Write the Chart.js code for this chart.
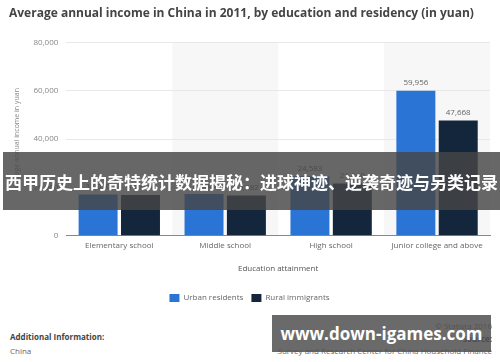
<!DOCTYPE html>
<html>
<head>
<meta charset="utf-8">
<script src="https://cdn.jsdelivr.net/npm/chart.js@4.4.0/dist/chart.umd.min.js"></script>
<style>
  body { margin: 0; width: 500px; height: 362px; background: #fff; overflow: hidden; position: relative; font-family: "Open Sans", sans-serif; }
  #wrap { position: absolute; left: 0; top: 0; width: 500px; height: 312px; }
  .foot { position: absolute; font-size: 8px; color: #666; }
  .bold { font-weight: bold; color: #444; }
  #banner { position: absolute; left: 3px; top: 152px; width: 497px; height: 58px; background: rgba(70,70,70,0.82);
    color: #fff; font-family: "Noto Sans CJK SC", sans-serif; font-weight: bold; font-size: 17px; line-height: 60px; text-align: center; white-space: nowrap; }
  #mark { position: absolute; left: 272px; top: 315px; width: 219px; height: 37px; background: rgba(80,80,80,0.85);
    color: #fff; font-family: "Open Sans", sans-serif; font-weight: bold; font-size: 17px; line-height: 37px; text-align: center; white-space: nowrap; }
</style>
</head>
<body>
<div id="wrap"><canvas id="incomeChart" width="500" height="312"></canvas></div>

<div class="foot bold" style="left:10px; top:331px;">Additional Information:</div>
<div class="foot" style="left:10px; top:345px;">China</div>
<div class="foot" style="right:8px; top:320px;">© Statista 2016</div>
<div class="foot bold" style="right:8px; top:333px;">Source:</div>
<div class="foot" style="right:8px; top:345px;">Survey and Research Center for China Household Finance</div>

<div id="banner">西甲历史上的奇特统计数据揭秘：进球神迹、逆袭奇迹与另类记录</div>
<div id="mark">www.down-igames.com</div>

<script>
var categories = ["Elementary school", "Middle school", "High school", "Junior college and above"];
var urbanResidents = [17050, 17300, 24583, 59956];
var ruralImmigrants = [16900, 16682, 21640, 47668];
var yTicks = [0, 20000, 40000, 60000, 80000];

// light gray bands behind every other category
var bandPlugin = {
    id: 'bands',
    beforeDraw: function(chart) {
        var ctx = chart.ctx;
        var area = chart.chartArea;
        var x = chart.scales.x;
        var step = x.width / categories.length;
        ctx.save();
        ctx.fillStyle = '#f7f7f7';
        for (var i = 1; i < categories.length; i += 2) {
            ctx.fillRect(x.left + step * i, area.top, step, area.bottom - area.top);
        }
        ctx.restore();
    }
};

// value labels above bars
var labelPlugin = {
    id: 'valueLabels',
    afterDatasetsDraw: function(chart) {
        var ctx = chart.ctx;
        ctx.save();
        ctx.font = '8px "Open Sans"';
        ctx.fillStyle = '#666';
        ctx.textAlign = 'center';
        ctx.textBaseline = 'bottom';
        chart.data.datasets.forEach(function(ds, i) {
            chart.getDatasetMeta(i).data.forEach(function(bar, j) {
                ctx.fillText(ds.data[j].toLocaleString('en-US'), bar.x, bar.y - 4);
            });
        });
        ctx.restore();
    }
};

new Chart(document.getElementById('incomeChart').getContext('2d'), {
    type: 'bar',
    data: {
        labels: categories,
        datasets: [{
            label: 'Urban residents',
            data: urbanResidents,
            backgroundColor: '#2a74d6'
        }, {
            label: 'Rural immigrants',
            data: ruralImmigrants,
            backgroundColor: '#14263c'
        }]
    },
    options: {
        responsive: false,
        animation: false,
        categoryPercentage: 0.8,
        barPercentage: 0.92,
        layout: { padding: { left: 9, right: 10, top: 0, bottom: 0 } },
        plugins: {
            title: {
                display: true,
                text: 'Average annual income in China in 2011, by education and residency (in yuan)',
                align: 'start',
                color: '#444',
                font: { family: 'Open Sans', size: 12, weight: 'bold' },
                padding: { top: 6, bottom: 22 }
            },
            legend: {
                position: 'bottom',
                labels: {
                    boxWidth: 10,
                    boxHeight: 8,
                    color: '#666',
                    font: { family: 'Open Sans', size: 8 },
                    padding: 8
                }
            },
            tooltip: { enabled: false }
        },
        scales: {
            x: {
                grid: { display: false, drawTicks: false },
                border: { color: '#888' },
                ticks: { color: '#666', font: { family: 'Open Sans', size: 8 }, padding: 5 },
                title: { display: true, text: 'Education attainment', color: '#555', font: { family: 'Open Sans', size: 8 }, padding: { top: 9, bottom: 12 } }
            },
            y: {
                min: 0,
                max: 80000,
                afterBuildTicks: function(axis) {
                    axis.ticks = yTicks.map(function(v) { return { value: v }; });
                },
                grid: { color: '#e8e8e8', drawTicks: false },
                border: { display: false },
                ticks: {
                    color: '#888',
                    font: { family: 'Open Sans', size: 8 },
                    padding: 8,
                    callback: function(v) { return v.toLocaleString('en-US'); }
                },
                title: { display: true, text: 'Average annual income in yuan', color: '#888', font: { family: 'Open Sans', size: 7 } }
            }
        }
    },
    plugins: [bandPlugin, labelPlugin]
});
</script>
</body>
</html>
